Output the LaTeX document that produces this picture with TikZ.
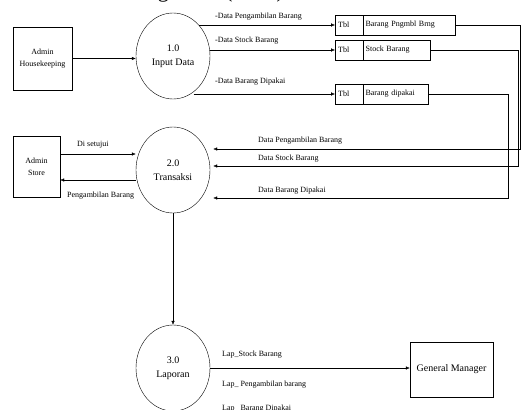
\documentclass[tikz,border=0pt]{standalone}
\usepackage{fontspec}
\setmainfont{Liberation Serif}
\usepackage{tikz}
\usetikzlibrary{arrows.meta}
\usetikzlibrary{positioning, shapes.geometric}
\tikzset{
process/.style = { ellipse, draw = black, fill = white, minimum width = 74pt, minimum height = 86pt, inner sep = 0pt, align = center, font = \fontsize{10}{14}\selectfont },
entity/.style = { rectangle, draw = black, fill = white, align = center, font = \fontsize{8}{12}\selectfont },
tbl id/.style = { rectangle, draw = black, fill = white, anchor = west, minimum height = 20pt, text width = 22pt, inner xsep = 3pt, align = left, font = \fontsize{8}{10}\selectfont },
tbl name/.style = { rectangle, draw = black, fill = white, anchor = west, minimum height = 20pt, text width = #1, inner xsep = 2pt, align = left, font = \fontsize{8}{10}\selectfont },
flow/.style = { draw = black, -{Latex[length = 4pt, width = 3.5pt]} },
lbl/.style = { anchor = west, inner sep = 0pt, font = \fontsize{8}{10}\selectfont },
}

\begin{document}
\begin{tikzpicture}[x = 1pt, y = -1pt]
      \useasboundingbox (0, 0) rectangle (521, 409);
      \node[anchor = base west, inner sep = 0pt, font = \fontsize{22}{22}\selectfont] (title) at (126, -2.5) {Diagram 1 (DFD)};

      \node[entity, minimum width = 59pt, minimum height = 63pt] (hk) at (42.5, 58.5) {Admin\\Housekeeping};
      \node[entity, minimum width = 47pt, minimum height = 61pt] (st) at (36.5, 166.5) {Admin\\Store};
      \node[entity, minimum width = 83pt, minimum height = 55pt, font = \fontsize{10}{12}\selectfont] (gm) at (451.5, 369.5) {General Manager};

      \node[process] (p1) at (173, 56) {1.0\\Input Data};
      \node[process] (p2) at (173, 170) {2.0\\Transaksi};
      \node[process] (p3) at (173, 368) {3.0\\Laporan};

      \node[tbl id] (t1) at (335, 25) {Tbl};
      \node[tbl name = 88pt, right = 0pt of t1] (s1) {Barang Pngmbl Brng};
      \node[tbl id] (t2) at (335, 50) {Tbl};
      \node[tbl name = 63pt, right = 0pt of t2] (s2) {Stock Barang};
      \node[tbl id] (t3) at (335, 94) {Tbl};
      \node[tbl name = 61pt, right = 0pt of t3] (s3) {Barang dipakai};

      \draw[flow] (hk.east) -- (hk.east -| p1.west);
      \draw[flow] (p1.50 |- t1.west) -- (t1.west);
      \draw[flow] (p1.10 |- t2.west) -- (t2.west);
      \draw[flow] (p1.-60 |- t3.west) -- (t3.west);
      \node[lbl] (f1) at (215, 17) {-Data Pengambilan Barang};
      \node[lbl] (f2) at (215, 41) {-Data Stock Barang};
      \node[lbl] (f3) at (215, 82) {-Data Barang Dipakai};

      \coordinate (r1) at (520, 149);
      \coordinate (r2) at (518, 166);
      \coordinate (r3) at (508, 198);
      \draw[flow] (s1.east) -| (r1) -- ([xshift = 3pt]p2.east |- r1);
      \draw[flow] (s2.east) -| (r2) -- ([xshift = 3pt]p2.east |- r2);
      \draw[flow] (s3.east) -| (r3) -- ([xshift = 3pt]p2.east |- r3);
      \node[lbl] (g1) at (258, 141) {Data Pengambilan Barang};
      \node[lbl] (g2) at (258, 159) {Data Stock Barang};
      \node[lbl] (g3) at (258, 191) {Data Barang Dipakai};

      \draw[flow] ([yshift = 12.5pt]st.east) -- ([yshift = 12.5pt]st.east -| p2.west);
      \draw[flow] ([yshift = -13.5pt]st.east -| p2.west) -- ([yshift = -13.5pt]st.east);
      \node[lbl] (d1) at (77, 145) {Di setujui};
      \node[lbl] (d2) at (67, 196) {Pengambilan Barang};

      \draw[flow] (p2) -- (p3);
      \draw[flow] (p3.east) -- (p3.east -| gm.west);
      \node[lbl] (b1) at (222, 355) {Lap\_Stock Barang};
      \node[lbl] (b2) at (222, 385) {Lap\_ Pengambilan barang};
      \node[lbl] (b3) at (222, 409) {Lap\_ Barang Dipakai};
    \end{tikzpicture}
\end{document}
